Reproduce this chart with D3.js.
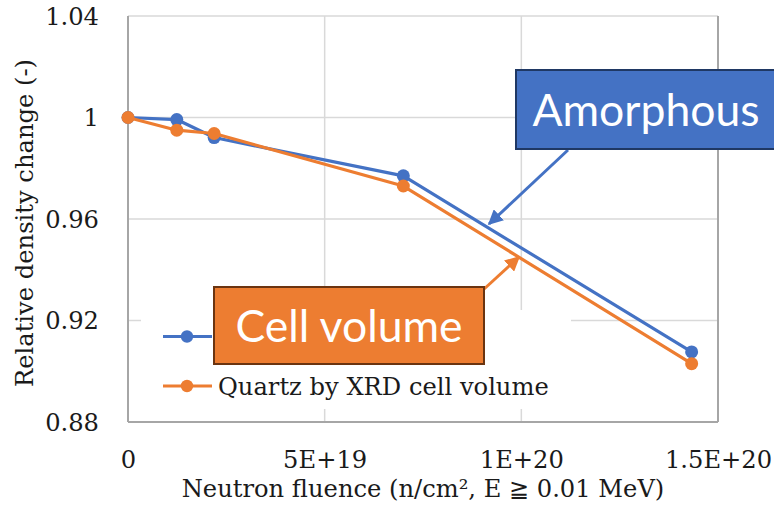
<!DOCTYPE html>
<html>
<head>
<meta charset="utf-8">
<script src="https://cdn.jsdelivr.net/npm/d3@7/dist/d3.min.js"></script>
<style>
  html, body { margin: 0; padding: 0; background: #fff; }
  svg { display: block; }
</style>
</head>
<body>
<svg id="chart" width="774" height="519"></svg>
<script>
// Neutron fluence (n/cm2) for each irradiation step
const fluence = [0, 1.24e19, 2.19e19, 7.0e19, 1.433e20];
// Relative density change, amorphous phase
const amorphous = [1.0, 0.9992, 0.9921, 0.977, 0.9076];
// Relative density change, quartz from XRD cell volume
const cellVolume = [1.0, 0.995, 0.9937, 0.973, 0.903];

const xTicks = [0, 5e19, 1e20, 1.5e20];
const xTickLabels = ["0", "5E+19", "1E+20", "1.5E+20"];
const yTicks = [0.88, 0.92, 0.96, 1, 1.04];
const yTickLabels = ["0.88", "0.92", "0.96", "1", "1.04"];

const seriesNames = ["", "Quartz by XRD cell volume"];
const calloutTexts = ["Amorphous", "Cell volume"];

const blue = "#4472C4", orange = "#ED7D31";
const serif = "'DejaVu Serif', serif";
const sans = "Lato, 'Open Sans', sans-serif";
const ink = "#1a1a1a";
const fs = 24.2;

const svg = d3.select("#chart");
const plot = { left: 128, right: 718, top: 16, bottom: 422 };

const x = d3.scaleLinear().domain([0, 1.5e20]).range([plot.left, plot.right]);
const y = d3.scaleLinear().domain([0.88, 1.04]).range([plot.bottom, plot.top]);

// gridlines
const grid = svg.append("g").attr("stroke", "#d9d9d9").attr("stroke-width", 1.5);
yTicks.forEach(v => grid.append("line")
  .attr("x1", plot.left).attr("x2", plot.right).attr("y1", y(v)).attr("y2", y(v)));
xTicks.slice(1, -1).forEach(v => grid.append("line")
  .attr("x1", x(v)).attr("x2", x(v)).attr("y1", plot.top).attr("y2", plot.bottom));

// axis frame lines
const frame = svg.append("g").attr("stroke", "#a6a6a6").attr("stroke-width", 2);
frame.append("line").attr("x1", plot.left).attr("x2", plot.left).attr("y1", plot.top).attr("y2", plot.bottom);
frame.append("line").attr("x1", plot.left).attr("x2", plot.right).attr("y1", plot.bottom).attr("y2", plot.bottom);
frame.append("line").attr("x1", plot.right).attr("x2", plot.right).attr("y1", plot.top).attr("y2", plot.bottom);

// y axis
const yAxis = svg.append("g").attr("transform", `translate(${plot.left},0)`)
  .call(d3.axisLeft(y).tickValues(yTicks).tickSize(0).tickPadding(29)
    .tickFormat((d, i) => yTickLabels[i]));
yAxis.select(".domain").remove();
yAxis.selectAll("text").attr("font-family", serif).attr("font-size", fs).attr("fill", ink)
  .attr("dy", "0.35em");

// x axis
const xAxis = svg.append("g").attr("transform", `translate(0,${plot.bottom})`)
  .call(d3.axisBottom(x).tickValues(xTicks).tickSize(0)
    .tickFormat((d, i) => xTickLabels[i]));
xAxis.select(".domain").remove();
xAxis.selectAll("text").attr("font-family", serif).attr("font-size", fs).attr("fill", ink)
  .attr("y", 46).attr("dy", 0);

// axis titles
svg.append("text")
  .attr("x", (plot.left + plot.right) / 2).attr("y", 497)
  .attr("text-anchor", "middle").attr("font-family", serif).attr("font-size", fs).attr("fill", ink)
  .text("Neutron fluence (n/cm\u00B2, E \u2267 0.01 MeV)");
svg.append("text")
  .attr("transform", "translate(33,223) rotate(-90)")
  .attr("text-anchor", "middle").attr("font-family", serif).attr("font-size", fs).attr("fill", ink)
  .text("Relative density change (-)");

// legend background
const legend = svg.append("g");
legend.append("rect").attr("x", 141).attr("y", 310).attr("width", 430).attr("height", 99).attr("fill", "#fff");

// series lines and markers
const line = d3.line().x(d => x(d[0])).y(d => y(d[1]));
[[amorphous, blue], [cellVolume, orange]].forEach(([vals, col]) => {
  const pts = fluence.map((f, i) => [f, vals[i]]);
  svg.append("path").datum(pts).attr("d", line)
    .attr("fill", "none").attr("stroke", col).attr("stroke-width", 3.2).attr("stroke-linejoin", "round");
  svg.append("g").selectAll("circle").data(pts).join("circle")
    .attr("cx", d => x(d[0])).attr("cy", d => y(d[1])).attr("r", 6.5).attr("fill", col);
});

// legend entries
[[blue, 336.5], [orange, 386]].forEach(([col, ly], i) => {
  legend.append("line").attr("x1", 163).attr("x2", 212).attr("y1", ly).attr("y2", ly)
    .attr("stroke", col).attr("stroke-width", 3.2);
  legend.append("circle").attr("cx", 187).attr("cy", ly).attr("r", 6.2).attr("fill", col);
  if (seriesNames[i]) {
    legend.append("text").attr("x", 218).attr("y", ly + 8.5)
      .attr("font-family", serif).attr("font-size", fs).attr("fill", ink)
      .text(seriesNames[i]);
  }
});

// arrow heads
const defs = svg.append("defs");
[["headBlue", blue], ["headOrange", orange]].forEach(([id, col]) => {
  defs.append("marker").attr("id", id).attr("viewBox", "0 0 10 10")
    .attr("refX", 9).attr("refY", 5).attr("markerWidth", 5).attr("markerHeight", 5)
    .attr("markerUnits", "strokeWidth").attr("orient", "auto")
    .append("path").attr("d", "M0,0 L10,5 L0,10 Z").attr("fill", col);
});

// callouts
function callout(box, text, fill, stroke, arrow, head) {
  svg.append("line").attr("x1", arrow[0]).attr("y1", arrow[1]).attr("x2", arrow[2]).attr("y2", arrow[3])
    .attr("stroke", fill).attr("stroke-width", 3).attr("marker-end", `url(#${head})`);
  svg.append("rect").attr("x", box[0]).attr("y", box[1]).attr("width", box[2]).attr("height", box[3])
    .attr("fill", fill).attr("stroke", stroke).attr("stroke-width", 2);
  svg.append("text").attr("x", box[0] + box[2] / 2).attr("y", box[1] + box[3] / 2 + 16)
    .attr("text-anchor", "middle").attr("font-family", sans).attr("font-size", 44.5).attr("fill", "#fff")
    .text(text);
}
callout([516, 70, 260, 79], calloutTexts[0], blue, "#1F3864", [568, 150, 489, 224], "headBlue");
callout([214, 287, 270, 77], calloutTexts[1], orange, "#6B3410", [483, 290, 519, 257], "headOrange");
</script>
</body>
</html>
